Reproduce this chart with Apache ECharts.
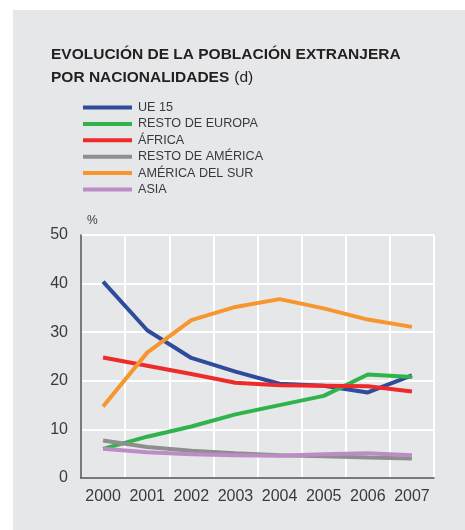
<!DOCTYPE html>
<html>
<head>
<meta charset="utf-8">
<script src="https://cdn.jsdelivr.net/npm/echarts@6/dist/echarts.min.js"></script>
<style>
  html, body { margin: 0; padding: 0; background: #fff; }
  #panel { position: absolute; left: 13px; top: 10px; width: 452px; height: 520px; background: #e6e7e8; }
  #chart { position: absolute; left: 0; top: 0; width: 465px; height: 530px; }
</style>
</head>
<body>
<div id="panel"></div>
<div id="chart"></div>
<script>
// years on the x axis
const years = ['2000', '2001', '2002', '2003', '2004', '2005', '2006', '2007'];

// share of foreign population (%) by nationality
const ue15          = [40.4, 30.4, 24.7, 21.9, 19.4, 19.0, 17.6, 21.1];
const restoEuropa   = [6.0, 8.5, 10.6, 13.1, 15.0, 16.9, 21.3, 20.8];
const africa        = [24.8, 23.1, 21.4, 19.6, 19.1, 19.0, 18.9, 17.8];
const restoAmerica  = [7.7, 6.4, 5.6, 5.1, 4.7, 4.5, 4.2, 4.0];
const americaSur    = [14.7, 25.8, 32.5, 35.2, 36.8, 34.9, 32.6, 31.1];
const asia          = [6.0, 5.3, 4.9, 4.7, 4.6, 4.9, 5.1, 4.7];

const yTicks = [0, 10, 20, 30, 40, 50];

function line(name, data, color) {
  return {
    name: name,
    type: 'line',
    data: data,
    symbol: 'none',
    lineStyle: { width: 4, color: color },
    itemStyle: { color: color }
  };
}

let myChart = echarts.init(document.getElementById('chart'));
let option = {
  animation: false,
  textStyle: { fontFamily: 'Liberation Sans' },
  title: {
    left: 46,
    top: 38,
    text: '{b|EVOLUCIÓN DE LA POBLACIÓN EXTRANJERA}\n{b|POR NACIONALIDADES} {n|(d)}',
    textStyle: {
      rich: {
        b: { fontSize: 15.5, fontWeight: 'bold', color: '#231f20', lineHeight: 23, fontFamily: 'Liberation Sans' },
        n: { fontSize: 15.5, fontWeight: 'normal', color: '#231f20', lineHeight: 23, fontFamily: 'Liberation Sans' }
      }
    }
  },
  legend: {
    orient: 'vertical',
    left: 78,
    top: 96,
    icon: 'rect',
    itemWidth: 49,
    itemHeight: 4,
    itemGap: 3.4,
    textStyle: { fontSize: 12.6, color: '#3a3a3a', padding: [2, 0, 0, 1] },
    data: ['UE 15', 'RESTO DE EUROPA', 'ÁFRICA', 'RESTO DE AMÉRICA', 'AMÉRICA DEL SUR', 'ASIA']
  },
  grid: { left: 81, top: 235, right: 31, bottom: 52 },
  xAxis: {
    type: 'category',
    data: years,
    boundaryGap: true,
    axisLine: { lineStyle: { color: '#4d4d4f', width: 1.5 } },
    axisTick: { show: false, interval: 0 },
    axisLabel: { fontSize: 16, color: '#3a3a3a', margin: 11, interval: 0 },
    splitLine: { show: true, interval: 0, lineStyle: { color: '#ffffff', width: 2 } }
  },
  yAxis: {
    type: 'value',
    min: yTicks[0],
    max: yTicks[yTicks.length - 1],
    interval: 10,
    name: '%',
    nameGap: 8,
    nameTextStyle: { fontSize: 12, color: '#3a3a3a', align: 'left', padding: [0, 0, 0, 6] },
    axisLine: { show: true, lineStyle: { color: '#4d4d4f', width: 1.5 } },
    axisTick: { show: false },
    axisLabel: { fontSize: 16, color: '#3a3a3a', margin: 13 },
    splitLine: { show: true, lineStyle: { color: '#ffffff', width: 2 } }
  },
  series: [
    line('UE 15', ue15, '#2e4c9b'),
    line('RESTO DE EUROPA', restoEuropa, '#2fb34a'),
    line('ÁFRICA', africa, '#ee2b2b'),
    line('RESTO DE AMÉRICA', restoAmerica, '#8e8e8f'),
    line('AMÉRICA DEL SUR', americaSur, '#f7952f'),
    line('ASIA', asia, '#bd8cc6')
  ]
};
myChart.setOption(option);
</script>
</body>
</html>
